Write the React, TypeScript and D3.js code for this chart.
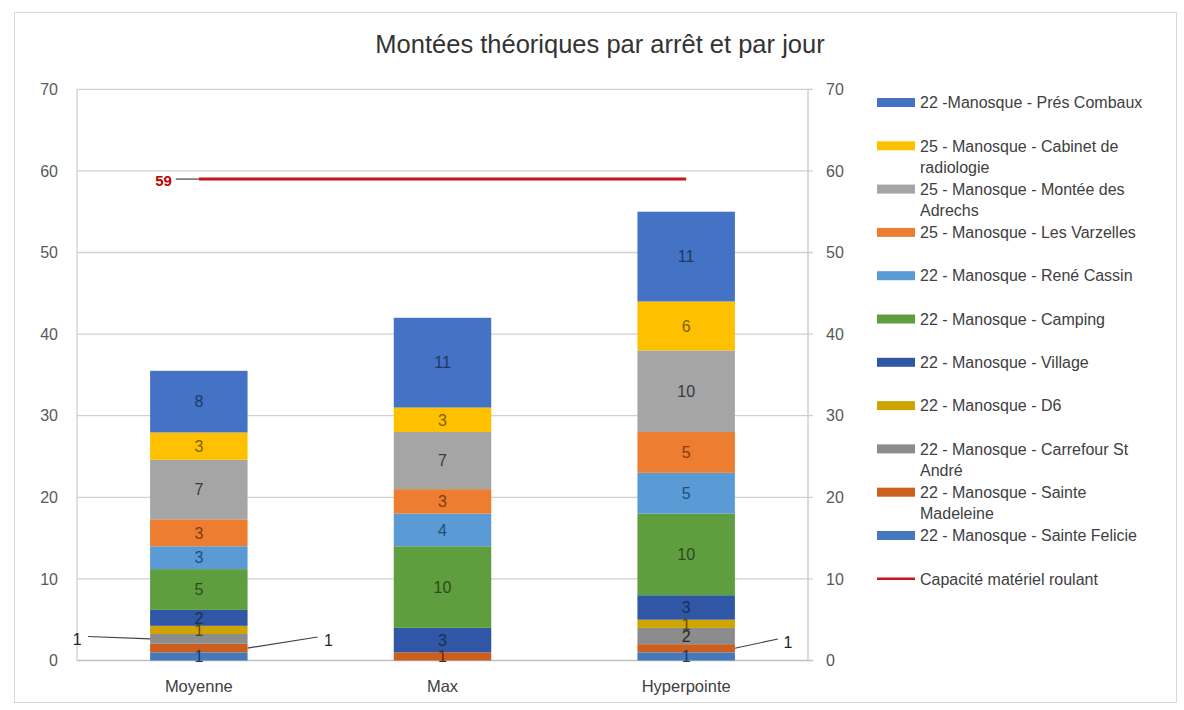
import React from 'react';
import * as d3 from 'd3';

// ---- Data ----
const categories = ['Moyenne', 'Max', 'Hyperpointe'];

// stacking order: bottom -> top
const sainteFelicie = [1.0, 0, 1];
const sainteMadeleine = [1.05, 1, 1];
const carrefourStAndre = [1.2, 0, 2];
const d6 = [1.0, 0, 1];
const village = [1.95, 3, 3];
const camping = [5.0, 10, 10];
const reneCassin = [2.8, 4, 5];
const lesVarzelles = [3.3, 3, 5];
const monteeAdrechs = [7.3, 7, 10];
const cabinetRadiologie = [3.35, 3, 6];
const presCombaux = [7.55, 11, 11];

const capacite = [59, 59, 59];
const yTicks = [0, 10, 20, 30, 40, 50, 60, 70];

const seriesNames = [
  '22 - Manosque - Sainte Felicie',
  '22 - Manosque - Sainte Madeleine',
  '22 - Manosque - Carrefour St André',
  '22 - Manosque - D6',
  '22 - Manosque - Village',
  '22 - Manosque - Camping',
  '22 - Manosque - René Cassin',
  '25 - Manosque - Les Varzelles',
  '25 - Manosque - Montée des Adrechs',
  '25 - Manosque - Cabinet de radiologie',
  '22 -Manosque - Prés Combaux',
];
const seriesValues = [
  sainteFelicie, sainteMadeleine, carrefourStAndre, d6, village, camping,
  reneCassin, lesVarzelles, monteeAdrechs, cabinetRadiologie, presCombaux,
];
const lineName = 'Capacité matériel roulant';

// legend wrap points (text)
const legendLines: Record<string, string[]> = {
  '25 - Manosque - Cabinet de radiologie': ['25 - Manosque - Cabinet de', 'radiologie'],
  '25 - Manosque - Montée des Adrechs': ['25 - Manosque - Montée des', 'Adrechs'],
  '22 - Manosque - Carrefour St André': ['22 - Manosque - Carrefour St', 'André'],
  '22 - Manosque - Sainte Madeleine': ['22 - Manosque - Sainte', 'Madeleine'],
};

// ---- Styles ----
const fills = [
  '#4678BC', '#CC5E1E', '#8C8C8C', '#CFA300', '#2F57A5', '#5E9E3E',
  '#5B9BD5', '#ED7D31', '#A5A5A5', '#FFC000', '#4472C4',
];
const labelColors = [
  '#1F3864', '#5A2806', '#262626', '#5C4700', '#1A2E5A', '#2D4A1C',
  '#1F4E79', '#843C0C', '#3A3A3A', '#7F6000', '#1F3864',
];
// labels placed outside with leader lines: [seriesIndex, categoryIndex, side, lineDx, lineY, textDx]
const outsideLabels: [number, number, 'left' | 'right', number, number, number][] = [
  [2, 0, 'left', 62, 636.5, 73],
  [1, 0, 'right', 70, 637, 81],
  [1, 2, 'right', 43, 639, 53],
];

const W = 1184;
const H = 710;
const FONT = '"Liberation Sans", Arial, sans-serif';

export default function App() {
  const plotLeft = 77;
  const plotRight = 808;
  const x = d3.scaleBand<string>().domain(categories).range([plotLeft, plotRight]).paddingInner(0.6).paddingOuter(0.3);
  const y = d3.scaleLinear().domain([0, 70]).range([660.5, 89.3]);

  const table = categories.map((c, ci) => {
    const row: any = { cat: c };
    seriesNames.forEach((n, si) => (row[n] = seriesValues[si][ci]));
    return row;
  });
  const stacked = d3.stack<any>().keys(seriesNames)(table);

  const outsideSet = new Set(outsideLabels.map((o) => `${o[0]}-${o[1]}`));

  const lineGen = d3.line<number>()
    .x((_, i) => (x(categories[i]) as number) + x.bandwidth() / 2)
    .y((d) => y(d));

  const legendX = 877;
  const legendY0 = 102.5;
  const legendStep = 43.3;
  const legendOrder = [...seriesNames.map((n, i) => i)].reverse();

  const firstCx = (x(categories[0]) as number) + x.bandwidth() / 2;

  return (
    <svg width={W} height={H} style={{ position: 'absolute', left: 0, top: 0, background: '#fff' }} fontFamily={FONT}>
      <rect x={0} y={0} width={W} height={H} fill="#fff" />
      <rect x={14.5} y={12.5} width={1162} height={690} fill="none" stroke="#D9D9D9" />
      <text x={600} y={53} textAnchor="middle" fontSize={25.5} fill="#333333">
        Montées théoriques par arrêt et par jour
      </text>

      {/* gridlines */}
      {yTicks.map((t) => (
        <line key={t} x1={plotLeft} x2={plotRight + 5} y1={y(t)} y2={y(t)} stroke={t === 0 ? '#BFBFBF' : '#D0D0D0'} strokeWidth={1.3} />
      ))}
      <line x1={plotLeft} x2={plotLeft} y1={y(70)} y2={y(0)} stroke="#D0D0D0" strokeWidth={1.3} />
      <line x1={plotRight} x2={plotRight} y1={y(70)} y2={y(0)} stroke="#C8C8C8" strokeWidth={1.3} />

      {/* axis labels */}
      {yTicks.map((t) => (
        <text key={'l' + t} x={58} y={y(t)} dy="0.35em" textAnchor="end" fontSize={16} fill="#595959">{t}</text>
      ))}
      {yTicks.map((t) => (
        <text key={'r' + t} x={826} y={y(t)} dy="0.35em" textAnchor="start" fontSize={16} fill="#595959">{t}</text>
      ))}
      {categories.map((c) => (
        <text key={c} x={(x(c) as number) + x.bandwidth() / 2} y={692} textAnchor="middle" fontSize={16.5} fill="#404040">{c}</text>
      ))}

      {/* bars */}
      {stacked.map((s, si) =>
        s.map((d, ci) => {
          const v = d[1] - d[0];
          if (v <= 0) return null;
          return (
            <rect key={`${si}-${ci}`} x={x(categories[ci]) as number} width={x.bandwidth()} y={y(d[1])} height={y(d[0]) - y(d[1])} fill={fills[si]} />
          );
        })
      )}

      {/* inside labels */}
      {stacked.map((s, si) =>
        s.map((d, ci) => {
          const v = d[1] - d[0];
          if (v <= 0 || outsideSet.has(`${si}-${ci}`)) return null;
          return (
            <text key={`t${si}-${ci}`} x={(x(categories[ci]) as number) + x.bandwidth() / 2} y={y((d[0] + d[1]) / 2)} dy="0.36em" textAnchor="middle" fontSize={16} fill={labelColors[si]}>
              {Math.round(v)}
            </text>
          );
        })
      )}

      {/* outside labels with leaders */}
      {outsideLabels.map(([si, ci, side, ldx, ly, tdx]) => {
        const d = stacked[si][ci];
        const v = d[1] - d[0];
        const bx = x(categories[ci]) as number;
        const edge = side === 'left' ? bx : bx + x.bandwidth();
        const sign = side === 'left' ? -1 : 1;
        const my = y((d[0] + d[1]) / 2);
        return (
          <g key={`o${si}-${ci}`}>
            <polyline points={`${edge},${my} ${edge + sign * ldx},${ly}`} fill="none" stroke="#404040" strokeWidth={1.2} />
            <text x={edge + sign * tdx} y={ly + 3} dy="0.36em" textAnchor="middle" fontSize={16} fill="#262626">{Math.round(v)}</text>
          </g>
        );
      })}

      {/* capacity line */}
      <path d={lineGen(capacite) as string} fill="none" stroke="#C8141E" strokeWidth={3} />
      <line x1={firstCx - 23} x2={firstCx} y1={y(capacite[0])} y2={y(capacite[0])} stroke="#404040" strokeWidth={1.2} />
      <text x={firstCx - 27} y={y(capacite[0]) + 2} dy="0.36em" textAnchor="end" fontSize={15} fontWeight="bold" fill="#C00000">{capacite[0]}</text>

      {/* legend */}
      {legendOrder.map((si, k) => {
        const cy = legendY0 + k * legendStep;
        const name = seriesNames[si];
        const lines = legendLines[name] || [name];
        return (
          <g key={'lg' + si}>
            <rect x={legendX} y={cy - 4.5} width={38} height={9} fill={fills[si]} />
            {lines.map((ln, li) => (
              <text key={li} x={legendX + 43} y={cy + li * 21.5} dy="0.36em" fontSize={16} fill="#404040">{ln}</text>
            ))}
          </g>
        );
      })}
      <g>
        <line x1={legendX} x2={legendX + 38} y1={legendY0 + 11 * legendStep} y2={legendY0 + 11 * legendStep} stroke="#C8141E" strokeWidth={2.5} />
        <text x={legendX + 43} y={legendY0 + 11 * legendStep} dy="0.36em" fontSize={16} fill="#404040">{lineName}</text>
      </g>
    </svg>
  );
}
